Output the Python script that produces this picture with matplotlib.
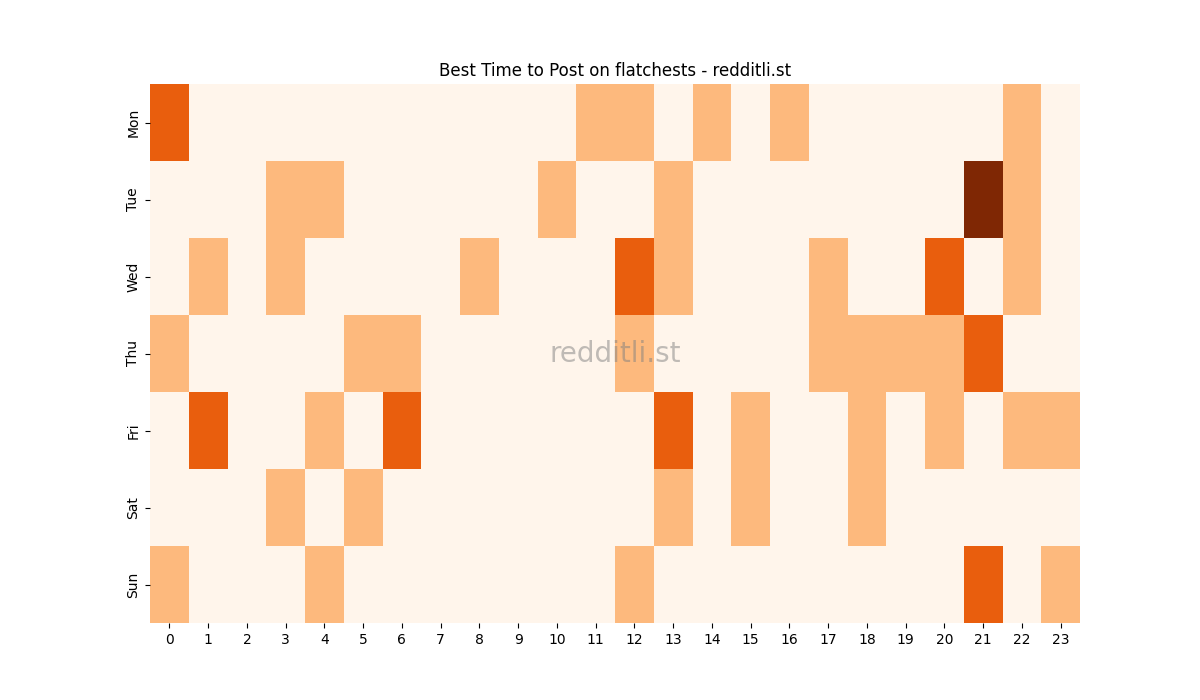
import matplotlib
matplotlib.use("Agg")
import matplotlib.pyplot as plt
import seaborn as sns
import numpy as np

days = ["Mon", "Tue", "Wed", "Thu", "Fri", "Sat", "Sun"]
hours = list(range(24))

mon = [2,0,0,0,0,0,0,0,0,0,0,1,1,0,1,0,1,0,0,0,0,0,1,0]
tue = [0,0,0,1,1,0,0,0,0,0,1,0,0,1,0,0,0,0,0,0,0,3,1,0]
wed = [0,1,0,1,0,0,0,0,1,0,0,0,2,1,0,0,0,1,0,0,2,0,1,0]
thu = [1,0,0,0,0,1,1,0,0,0,0,0,1,0,0,0,0,1,1,1,1,2,0,0]
fri = [0,2,0,0,1,0,2,0,0,0,0,0,0,2,0,1,0,0,1,0,1,0,1,1]
sat = [0,0,0,1,0,1,0,0,0,0,0,0,0,1,0,1,0,0,1,0,0,0,0,0]
sun = [1,0,0,0,1,0,0,0,0,0,0,0,1,0,0,0,0,0,0,0,0,2,0,1]

data = np.array([mon, tue, wed, thu, fri, sat, sun])

fig, ax = plt.subplots(figsize=(12, 7), dpi=100)
sns.heatmap(data, cmap="Oranges", cbar=False, ax=ax,
            xticklabels=hours, yticklabels=days, vmin=0, vmax=3)
ax.set_yticklabels(days, rotation=90, va="center")
ax.set_xticklabels(hours, rotation=0)
ax.set_title("Best Time to Post on flatchests - redditli.st")
ax.text(0.5, 0.5, "redditli.st", transform=ax.transAxes, fontsize=20,
        color="grey", alpha=0.5, ha="center", va="center")
fig.savefig("out.png")
